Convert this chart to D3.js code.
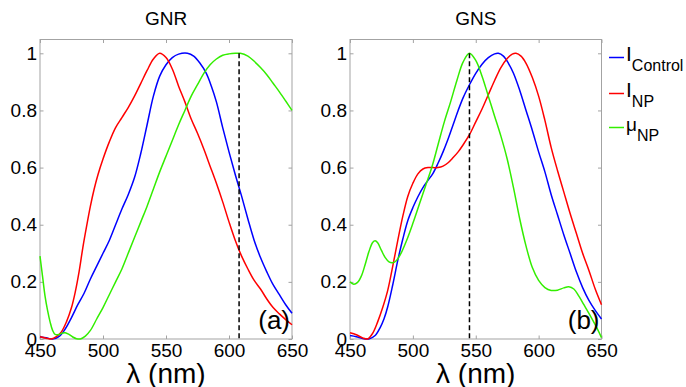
<!DOCTYPE html>
<html>
<head>
<meta charset="utf-8">
<script src="https://cdn.jsdelivr.net/npm/d3@7"></script>
<style>
  body { margin: 0; background: #fff; }
  svg { display: block; font-family: 'Liberation Sans', Arial, sans-serif; }
</style>
</head>
<body>
<div id="chart"></div>
<script>
// wavelength ticks and intensity ticks
const xTicks = [450, 500, 550, 600, 650];
const yTicks = [0, 0.2, 0.4, 0.6, 0.8, 1];
const panelTitles = ['GNR', 'GNS'];
const panelTags = ['(a)', '(b)'];
const peakLines = [608, 545];

// GNR panel  [lambda, normalised value]
const gnrControl = [[450,0.008],[455,0.004],[460,0.0],[465,0.008],[470,0.035],[475,0.075],[480,0.12],[485,0.16],[490,0.21],[495,0.255],[500,0.3],[505,0.345],[510,0.4],[515,0.455],[520,0.505],[525,0.565],[530,0.65],[535,0.75],[540,0.85],[545,0.92],[550,0.96],[555,0.985],[560,0.997],[567,1.0],[572,0.99],[577,0.965],[582,0.93],[586,0.885],[590,0.83],[595,0.74],[600,0.655],[605,0.575],[610,0.5],[615,0.42],[620,0.345],[625,0.285],[630,0.235],[635,0.19],[640,0.155],[645,0.12],[650,0.09]];
const gnrNP = [[450,0.008],[455,0.003],[459,0.0],[463,0.008],[467,0.025],[471,0.06],[475,0.11],[478,0.165],[481,0.235],[484,0.32],[487,0.395],[490,0.465],[493,0.525],[496,0.575],[500,0.63],[505,0.69],[510,0.74],[515,0.775],[520,0.81],[525,0.85],[530,0.895],[535,0.94],[540,0.98],[545,1.0],[550,0.985],[555,0.945],[560,0.885],[565,0.83],[570,0.77],[575,0.72],[580,0.665],[585,0.605],[590,0.545],[595,0.48],[600,0.41],[605,0.345],[610,0.29],[615,0.245],[620,0.205],[625,0.175],[630,0.14],[635,0.11],[640,0.088],[645,0.068],[650,0.05]];
const gnrMu = [[450,0.29],[452,0.22],[454,0.15],[456,0.1],[458,0.06],[460,0.03],[462,0.016],[465,0.016],[468,0.021],[470,0.022],[473,0.016],[476,0.007],[479,0.001],[482,0.0],[486,0.01],[490,0.03],[495,0.07],[500,0.11],[505,0.155],[510,0.2],[515,0.245],[520,0.3],[525,0.355],[530,0.41],[535,0.465],[540,0.525],[545,0.585],[550,0.64],[555,0.695],[560,0.75],[565,0.8],[570,0.85],[575,0.89],[580,0.93],[585,0.96],[590,0.98],[595,0.993],[600,0.998],[605,1.0],[609,1.0],[615,0.99],[620,0.972],[625,0.95],[630,0.925],[635,0.895],[640,0.865],[645,0.833],[650,0.8]];

// GNS panel
const gnsControl = [[450,0.012],[455,0.008],[460,0.002],[465,0.0],[470,0.012],[474,0.04],[477,0.07],[480,0.113],[484,0.19],[488,0.275],[492,0.35],[496,0.415],[500,0.46],[504,0.498],[508,0.53],[512,0.555],[516,0.58],[520,0.615],[524,0.655],[528,0.7],[532,0.75],[536,0.8],[540,0.845],[545,0.89],[550,0.93],[555,0.962],[560,0.985],[565,0.998],[568,1.0],[572,0.99],[576,0.965],[580,0.93],[585,0.87],[590,0.8],[595,0.73],[600,0.655],[605,0.585],[610,0.505],[615,0.435],[620,0.365],[625,0.3],[630,0.235],[635,0.18],[640,0.135],[645,0.1],[650,0.07]];
const gnsNP = [[450,0.022],[455,0.015],[460,0.004],[464,0.0],[468,0.02],[472,0.06],[476,0.11],[480,0.17],[484,0.255],[488,0.345],[492,0.43],[496,0.5],[500,0.545],[504,0.578],[508,0.595],[512,0.6],[516,0.6],[520,0.6],[524,0.605],[528,0.617],[532,0.635],[536,0.655],[540,0.68],[545,0.715],[550,0.76],[555,0.805],[560,0.855],[565,0.905],[570,0.95],[575,0.982],[579,0.997],[582,1.0],[586,0.99],[590,0.965],[595,0.915],[600,0.85],[605,0.765],[610,0.67],[615,0.59],[620,0.515],[625,0.44],[630,0.37],[635,0.3],[640,0.24],[645,0.175],[650,0.12]];
const gnsMu = [[450,0.2],[453,0.192],[456,0.198],[459,0.22],[462,0.26],[465,0.305],[468,0.338],[470,0.344],[472,0.337],[475,0.31],[478,0.285],[481,0.27],[484,0.267],[487,0.275],[490,0.295],[495,0.345],[500,0.405],[505,0.47],[510,0.535],[515,0.6],[520,0.68],[525,0.76],[530,0.83],[535,0.905],[540,0.97],[545,1.0],[550,0.975],[555,0.92],[560,0.85],[565,0.78],[570,0.71],[575,0.63],[580,0.53],[585,0.42],[590,0.325],[595,0.25],[600,0.205],[605,0.18],[610,0.17],[615,0.171],[620,0.179],[624,0.183],[628,0.175],[632,0.15],[636,0.12],[640,0.09],[645,0.05],[650,0.005]];

const seriesColors = ['#0000ff', '#ff0000', '#33ee00'];
const legendMain = ['I', 'I', 'μ'];
const legendSub = ['Control', 'NP', 'NP'];

const panels = [
  { left: 40, right: 292, series: [gnrControl, gnrNP, gnrMu] },
  { left: 350, right: 601.5, series: [gnsControl, gnsNP, gnsMu] }
];

const W = 686, H = 387;
const plotTop = 39.5, plotBottom = 339;
const boxColor = '#a3a3a3';

const svg = d3.select('#chart').append('svg')
  .attr('width', W).attr('height', H);
svg.append('rect').attr('width', W).attr('height', H).attr('fill', '#fff');

const y = d3.scaleLinear().domain([0, 1]).range([plotBottom, 53.3]);

panels.forEach((p, i) => {
  const x = d3.scaleLinear().domain([450, 650]).range([p.left, p.right]);
  const g = svg.append('g');

  //box round the plot
  g.append('rect')
    .attr('x', p.left).attr('y', plotTop)
    .attr('width', p.right - p.left).attr('height', plotBottom - plotTop)
    .attr('fill', 'none').attr('stroke', boxColor).attr('stroke-width', 1);

  const styleAxis = (sel) => {
    sel.select('.domain').remove();
    sel.selectAll('.tick line').attr('stroke', boxColor);
    sel.attr('font-family', null).attr('font-size', null);
    sel.selectAll('text').attr('fill', '#000').style('font-size', '19px');
  };

  g.append('g').attr('transform', `translate(0,${plotBottom})`)
    .call(d3.axisBottom(x).tickValues(xTicks).tickSize(-3.5).tickPadding(5))
    .call(styleAxis);
  g.append('g').attr('transform', `translate(0,${plotTop})`)
    .call(d3.axisTop(x).tickValues(xTicks).tickSize(-3.5).tickFormat(''))
    .call(styleAxis);
  g.append('g').attr('transform', `translate(${p.left},0)`)
    .call(d3.axisLeft(y).tickValues(yTicks).tickSize(-3.5).tickPadding(3).tickFormat(d => String(d)))
    .call(styleAxis);
  g.append('g').attr('transform', `translate(${p.right},0)`)
    .call(d3.axisRight(y).tickValues(yTicks).tickSize(-3.5).tickFormat(''))
    .call(styleAxis);

  const line = d3.line()
    .x(d => x(d[0]))
    .y(d => y(d[1]))
    .curve(d3.curveCatmullRom.alpha(0.5));

  p.series.forEach((s, k) => {
    g.append('path')
      .datum(s)
      .attr('fill', 'none')
      .attr('stroke', seriesColors[k])
      .attr('stroke-width', 1.5)
      .attr('d', line);
  });

  // dashed line at the absorbance peak
  g.append('line')
    .attr('x1', x(peakLines[i])).attr('x2', x(peakLines[i]))
    .attr('y1', y(1)).attr('y2', plotBottom)
    .attr('stroke', '#000').attr('stroke-width', 1.5)
    .attr('stroke-dasharray', '5,3');

  const cx = (p.left + p.right) / 2;
  g.append('text')
    .attr('x', cx).attr('y', 25)
    .attr('text-anchor', 'middle')
    .style('font-size', '19px')
    .text(panelTitles[i]);

  g.append('text')
    .attr('x', cx).attr('y', 383)
    .attr('text-anchor', 'middle')
    .style('font-size', '28px')
    .text('λ (nm)');

  g.append('text')
    .attr('x', p.right - 2).attr('y', 329)
    .attr('text-anchor', 'end')
    .style('font-size', '26px')
    .text(panelTags[i]);
});

// legend, to the right of the GNS panel
const legend = svg.append('g');
const legendY = [57.5, 93.5, 127.5];
legendY.forEach((ly, k) => {
  legend.append('line')
    .attr('x1', 609).attr('x2', 624)
    .attr('y1', ly).attr('y2', ly)
    .attr('stroke', seriesColors[k]).attr('stroke-width', 1.5);
  const t = legend.append('text')
    .attr('x', 626).attr('y', ly + 3.5)
    .style('font-size', k === 2 ? '19px' : '21px');
  t.append('tspan').text(legendMain[k]);
  t.append('tspan')
    .attr('dy', 10)
    .style('font-size', '16px')
    .text(legendSub[k]);
});
</script>
</body>
</html>
